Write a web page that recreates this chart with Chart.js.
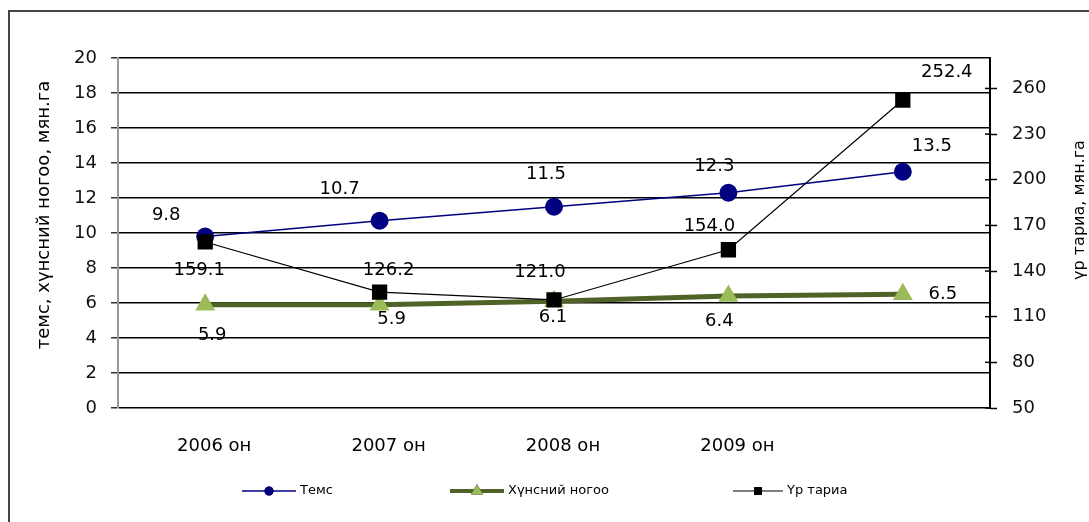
<!DOCTYPE html>
<html>
<head>
<meta charset="utf-8">
<script src="https://cdn.jsdelivr.net/npm/chart.js@4.4.1/dist/chart.umd.min.js"></script>
<style>
  html, body { margin:0; padding:0; background:#fff; width:1089px; height:522px; overflow:hidden; }
  #frame { position:absolute; left:8px; top:10px; width:1200px; height:600px; border-left:2.5px solid #444; border-top:2.5px solid #444; }
  #wrap { position:absolute; left:0; top:0; width:1089px; height:522px; }
</style>
</head>
<body>
<div id="frame"></div>
<div id="wrap"><canvas id="c" width="1089" height="522"></canvas></div>
<script>
const categories = ['2006 он', '2007 он', '2008 он', '2009 он', ''];
const seriesNames = ['Темс', 'Хүнсний ногоо', 'Үр тариа'];
const temsValues = [9.8, 10.7, 11.5, 12.3, 13.5];
const vegValues = [5.9, 5.9, 6.1, 6.4, 6.5];
const grainValues = [159.1, 126.2, 121.0, 154.0, 252.4];
const leftTicks = [0, 2, 4, 6, 8, 10, 12, 14, 16, 18, 20];
const rightTicks = [50, 80, 110, 140, 170, 200, 230, 260];
const leftTitle = 'темс, хүнсний ногоо, мян.га';
const rightTitle = 'үр тариа, мян.га';

// label placement (style only)
const labelOffsets = [
  [[-39,-21],[-40,-31],[-8,-32],[-14,-26],[29,-25]],
  [[7,31],[12,15],[-1,16],[-9,25],[40,0]],
  [[-6,28],[9,-22],[-14,-28],[-19,-23],[44,-28]]
];
const FONT = '"DejaVu Sans", sans-serif';

const extras = {
  id: 'extras',
  afterDatasetsDraw(chart) {
    const ctx = chart.ctx;
    ctx.save();
    // data labels
    ctx.font = '18px ' + FONT;
    ctx.fillStyle = '#000';
    ctx.textAlign = 'center';
    ctx.textBaseline = 'middle';
    chart.data.datasets.forEach((ds, di) => {
      const meta = chart.getDatasetMeta(di);
      meta.data.forEach((pt, i) => {
        const off = labelOffsets[di][i];
        ctx.fillText(ds.data[i].toFixed(1), pt.x + off[0], pt.y + off[1]);
      });
    });
    // inner tick marks of right axis
    const y2 = chart.scales.y2;
    ctx.strokeStyle = '#000';
    ctx.lineWidth = 1.5;
    y2.ticks.forEach(t => {
      const y = y2.getPixelForValue(t.value);
      ctx.beginPath(); ctx.moveTo(y2.left - 5, y); ctx.lineTo(y2.left, y); ctx.stroke();
    });
    // axis titles
    const ca = chart.chartArea;
    ctx.fillStyle = '#000';
    ctx.font = '18px ' + FONT;
    ctx.save();
    ctx.translate(44, 215);
    ctx.rotate(-Math.PI / 2);
    ctx.fillText(leftTitle, 0, 0);
    ctx.restore();
    ctx.font = '16px ' + FONT;
    ctx.save();
    ctx.translate(1080, 210);
    ctx.rotate(-Math.PI / 2);
    ctx.fillText(rightTitle, 0, 0);
    ctx.restore();
    // legend
    const ly = 491;
    const items = [
      {x0: 242, x1: 296, ds: 0},
      {x0: 450, x1: 504, ds: 1},
      {x0: 733, x1: 783, ds: 2}
    ];
    ctx.font = '13px ' + FONT;
    ctx.textAlign = 'left';
    items.forEach(it => {
      const ds = chart.data.datasets[it.ds];
      ctx.strokeStyle = ds.borderColor;
      ctx.lineWidth = it.ds === 1 ? 4 : (it.ds === 0 ? 1.5 : 1.2);
      ctx.beginPath(); ctx.moveTo(it.x0, ly); ctx.lineTo(it.x1, ly); ctx.stroke();
      const cx = (it.x0 + it.x1) / 2;
      const r = it.ds === 0 ? 4.5 : (it.ds === 1 ? 7 : 5.5);
      Chart.helpers.drawPoint(ctx, {pointStyle: ds.pointStyle, radius: r, borderWidth: 0}, cx, ly);
      ctx.fillStyle = ds.pointBackgroundColor;
      ctx.fill();
      ctx.fillStyle = '#000';
      ctx.fillText(seriesNames[it.ds], it.x1 + 4, ly);
    });
    ctx.restore();
  }
};

new Chart(document.getElementById('c'), {
  type: 'line',
  data: {
    labels: categories,
    datasets: [
      {
        label: seriesNames[0], data: temsValues, yAxisID: 'y', order: 1,
        borderColor: '#000080', borderWidth: 1.5,
        pointStyle: 'circle', pointRadius: 9, pointBorderWidth: 0,
        pointBackgroundColor: '#000080', pointBorderColor: '#000080', tension: 0
      },
      {
        label: seriesNames[1], data: vegValues, yAxisID: 'y', order: 2,
        borderColor: '#4F6228', borderWidth: 5,
        pointStyle: 'triangle', pointRadius: 11.5, pointBorderWidth: 0,
        pointBackgroundColor: '#9BBB59', pointBorderColor: '#9BBB59', tension: 0
      },
      {
        label: seriesNames[2], data: grainValues, yAxisID: 'y2', order: 0,
        borderColor: '#000000', borderWidth: 1.2,
        pointStyle: 'rect', pointRadius: 10.8, pointBorderWidth: 0,
        pointBackgroundColor: '#000000', pointBorderColor: '#000000', tension: 0
      }
    ]
  },
  options: {
    responsive: false,
    animation: false,
    devicePixelRatio: 1,
    layout: { padding: { top: 58, left: 0, right: 0, bottom: 0 } },
    plugins: { legend: { display: false }, tooltip: { enabled: false }, title: { display: false } },
    scales: {
      x: {
        type: 'category',
        offset: true,
        grid: { display: false, drawTicks: false },
        border: { display: false },
        ticks: { font: { family: 'DejaVu Sans', size: 18 }, color: '#000', padding: 28, labelOffset: 9, maxRotation: 0, autoSkip: false },
        afterFit(s) { s.height = 114; }
      },
      y: {
        position: 'left',
        min: 0, max: 20,
        afterBuildTicks(s) { s.ticks = leftTicks.map(v => ({ value: v })); },
        grid: { color: '#000', lineWidth: 1.5, drawTicks: true, tickLength: 7, tickColor: '#333', tickWidth: 1.5 },
        border: { display: true, color: '#999', width: 2 },
        ticks: { font: { family: 'DejaVu Sans', size: 18 }, color: '#111', padding: 14 },
        afterFit(s) { s.width = 118; }
      },
      y2: {
        position: 'right',
        min: 50, max: 280,
        afterBuildTicks(s) { s.ticks = rightTicks.map(v => ({ value: v })); },
        grid: { drawOnChartArea: false, drawTicks: true, tickLength: 7, tickColor: '#000', tickWidth: 1.5 },
        border: { display: true, color: '#000', width: 2 },
        ticks: { font: { family: 'DejaVu Sans', size: 18 }, color: '#111', padding: 15 },
        afterFit(s) { s.width = 99; }
      }
    }
  },
  plugins: [extras]
});
</script>
</body>
</html>
